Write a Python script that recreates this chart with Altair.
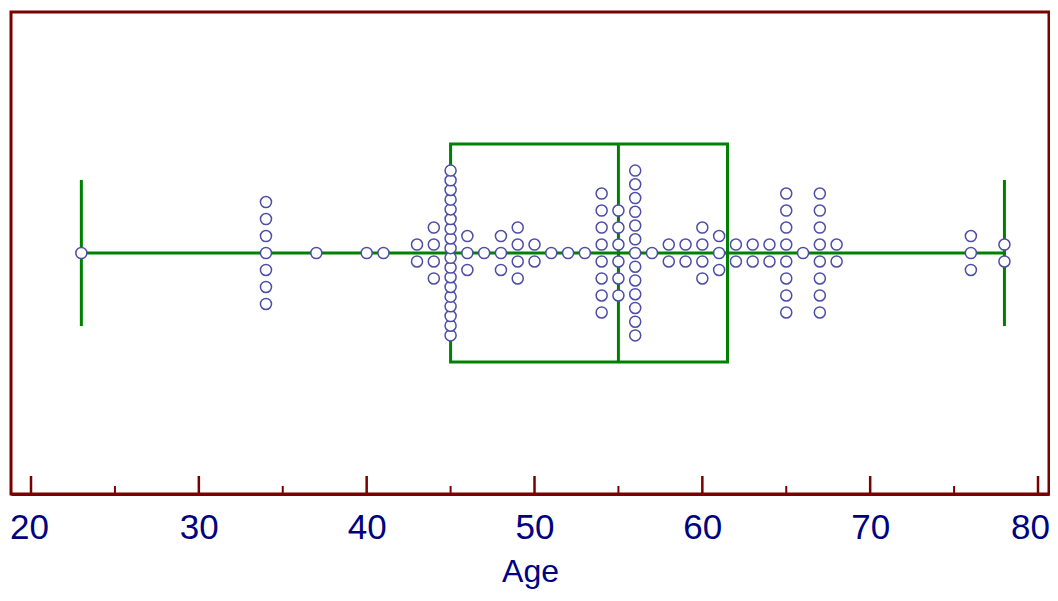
import altair as alt
import pandas as pd

# --- data ---
ages = [23, 34, 37, 40, 41, 43, 44, 45, 46, 47, 48, 49, 50, 51, 52, 53, 54, 55,
        56, 57, 58, 59, 60, 61, 62, 63, 64, 65, 66, 67, 68, 76, 78]
counts = [1, 7, 1, 1, 1, 2, 4, 18, 3, 1, 3, 4, 2, 1, 1, 1, 8, 6,
          13, 1, 2, 2, 4, 3, 2, 2, 2, 8, 1, 8, 2, 3, 2]
stat_names = ["min", "q1", "median", "q3", "max"]
stat_values = [23, 45, 55, 61.5, 78]
major_ticks = [20, 30, 40, 50, 60, 70, 80]
minor_ticks = [25, 35, 45, 55, 65, 75]

stats = dict(zip(stat_names, stat_values))

# stack dots symmetrically around the centre line (compressing tall columns)
rows = []
for a, n in zip(ages, counts):
    step = 1.0 if n <= 1 else min(1.0, 9.7 / (n - 1))
    for i in range(n):
        rows.append({"age": a, "off": (i - (n - 1) / 2) * step})
dots = pd.DataFrame(rows)

W, H = 1038, 482
GREEN = "#008000"
DARK_RED = "#7a0000"
NAVY = "#000080"

xs = alt.Scale(domain=[18.808, 80.655], nice=False, zero=False)
ys = alt.Scale(domain=[-14.18, 14.18], nice=False, zero=False)

box_h = 6.41
cap_h = 4.3
stat_df = pd.DataFrame([{
    "lo": stats["min"], "hi": stats["max"], "q1": stats["q1"], "q3": stats["q3"],
    "med": stats["median"], "c": 0.0, "bt": box_h, "bb": -box_h,
}])
caps_df = pd.DataFrame({"x": [stats["min"], stats["max"]], "y1": [-cap_h] * 2, "y2": [cap_h] * 2})

x_axis = alt.Axis(values=major_ticks, labelFontSize=35, labelColor=NAVY, labelFont="Liberation Sans",
                  ticks=False, domainColor=DARK_RED, domainWidth=3, grid=False,
                  labelPadding=16, labelFlush=False,
                  labelOffset={"expr": "datum.value == 80 ? -8 : (datum.value == 20 ? -2 : 0)"},
                  title="Age", titleFontSize=32, titleColor=NAVY, titleFont="Liberation Sans",
                  titleFontWeight="normal", titlePadding=11)

base = alt.Chart(stat_df)

whisker = base.mark_rule(color=GREEN, strokeWidth=3).encode(
    x=alt.X("lo:Q", scale=xs, axis=x_axis), x2="hi:Q",
    y=alt.Y("c:Q", scale=ys, axis=None))

caps = alt.Chart(caps_df).mark_rule(color=GREEN, strokeWidth=3).encode(
    x=alt.X("x:Q", scale=xs), y=alt.Y("y1:Q", scale=ys, axis=None), y2="y2:Q")

box = base.mark_rect(fillOpacity=0, stroke=GREEN, strokeWidth=3).encode(
    x=alt.X("q1:Q", scale=xs), x2="q3:Q",
    y=alt.Y("bb:Q", scale=ys, axis=None), y2="bt:Q")

median = base.mark_rule(color=GREEN, strokeWidth=3).encode(
    x=alt.X("med:Q", scale=xs), y=alt.Y("bb:Q", scale=ys, axis=None), y2="bt:Q")

pts = alt.Chart(dots).mark_point(shape="circle", filled=False, fill="white", fillOpacity=1,
                                 stroke="#4e4ea8", strokeWidth=1.5, size=122, opacity=1).encode(
    x=alt.X("age:Q", scale=xs), y=alt.Y("off:Q", scale=ys, axis=None))

major = alt.Chart(pd.DataFrame({"t": major_ticks})).mark_rule(color=DARK_RED, strokeWidth=2.5).encode(
    x=alt.X("t:Q", scale=xs), y=alt.value(H), y2=alt.value(H - 18))
minor = alt.Chart(pd.DataFrame({"t": minor_ticks})).mark_rule(color=DARK_RED, strokeWidth=2).encode(
    x=alt.X("t:Q", scale=xs), y=alt.value(H), y2=alt.value(H - 8))

chart = alt.layer(whisker, caps, box, median, pts, major, minor).properties(
    width=W, height=H,
    autosize=alt.AutoSizeParams(type="none"),
    padding={"left": 3, "top": 4, "right": 1, "bottom": 95},
    background="white",
).configure_view(stroke=DARK_RED, strokeWidth=3)

chart.save("out.html", embed_options={"renderer": "svg", "actions": False})
